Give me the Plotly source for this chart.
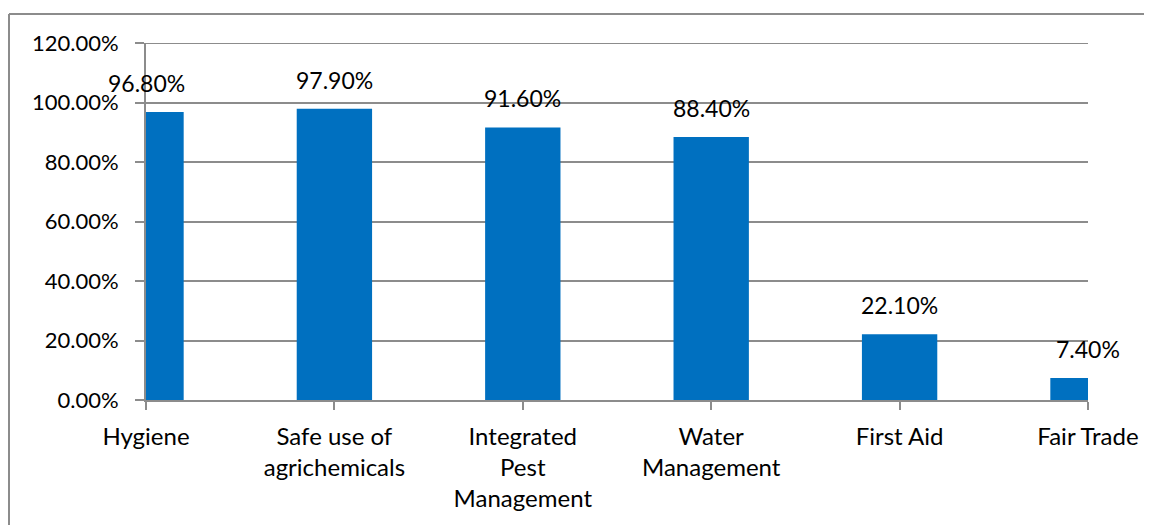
import plotly.graph_objects as go

categories = ["Hygiene", "Safe use of<br>agrichemicals", "Integrated<br>Pest<br>Management",
              "Water<br>Management", "First Aid", "Fair Trade"]
values = [0.968, 0.979, 0.916, 0.884, 0.221, 0.074]
labels = ["96.80%", "97.90%", "91.60%", "88.40%", "22.10%", "7.40%"]
y_ticks = [0, 0.2, 0.4, 0.6, 0.8, 1.0, 1.2]

FONT = "Lato"
GRID = "#8c8c8c"
OFF = 8  # default page body margin

fig = go.Figure()
fig.add_trace(go.Bar(
    x=list(range(len(categories))), y=values,
    marker=dict(color="#0070C0", line=dict(width=0)),
    width=0.4,
    hoverinfo="skip",
))

for i, (v, t) in enumerate(zip(values, labels)):
    fig.add_annotation(x=i, y=v, text=t, showarrow=False, yanchor="bottom",
                       yshift=13, font=dict(family=FONT, size=23, color="#000000"))

L, R, T, B = 146 - OFF, 1088 - OFF, 43 - OFF, 400 - OFF
W, H = 1152 - OFF, 525 - OFF
pw, ph = R - L, B - T

def px(xp):
    return (xp - OFF - L) / pw

def py(yp):
    return (B - (yp - OFF)) / ph

# outer chart border (top and left visible)
fig.add_shape(type="line", xref="paper", yref="paper", x0=px(9), x1=px(1200), y0=py(14), y1=py(14),
              line=dict(color="#8c8c8c", width=2))
fig.add_shape(type="line", xref="paper", yref="paper", x0=px(9), x1=px(9), y0=py(14), y1=py(560),
              line=dict(color="#8c8c8c", width=2))
# top gridline at the upper end of the value axis
fig.add_shape(type="line", xref="paper", yref="y", x0=0, x1=1, y0=y_ticks[-1], y1=y_ticks[-1],
              line=dict(color=GRID, width=2), layer="below")

fig.update_layout(
    width=W, height=H,
    margin=dict(l=L, r=W - R, t=T, b=H - B),
    paper_bgcolor="white", plot_bgcolor="white",
    showlegend=False,
    font=dict(family=FONT, size=22, color="#000000"),
    xaxis=dict(
        range=[0, 5], tickmode="array", tickvals=list(range(len(categories))), ticktext=categories,
        showgrid=False, zeroline=False, showline=True, linecolor=GRID, linewidth=2,
        ticks="outside", ticklen=8, tickcolor=GRID, tickwidth=2,
        ticklabelstandoff=6, automargin=False,
        tickfont=dict(family=FONT, size=24, color="#000000"),
    ),
    yaxis=dict(
        range=[0, 1.2], tickmode="array", tickvals=y_ticks, tickformat=".2%",
        showgrid=True, gridcolor=GRID, gridwidth=2, zeroline=False,
        showline=True, linecolor=GRID, linewidth=2,
        ticks="outside", ticklen=9, tickcolor=GRID, tickwidth=2,
        ticklabelstandoff=12, automargin=False,
        tickfont=dict(family=FONT, size=22, color="#000000"),
    ),
)

fig.write_html("out.html")
